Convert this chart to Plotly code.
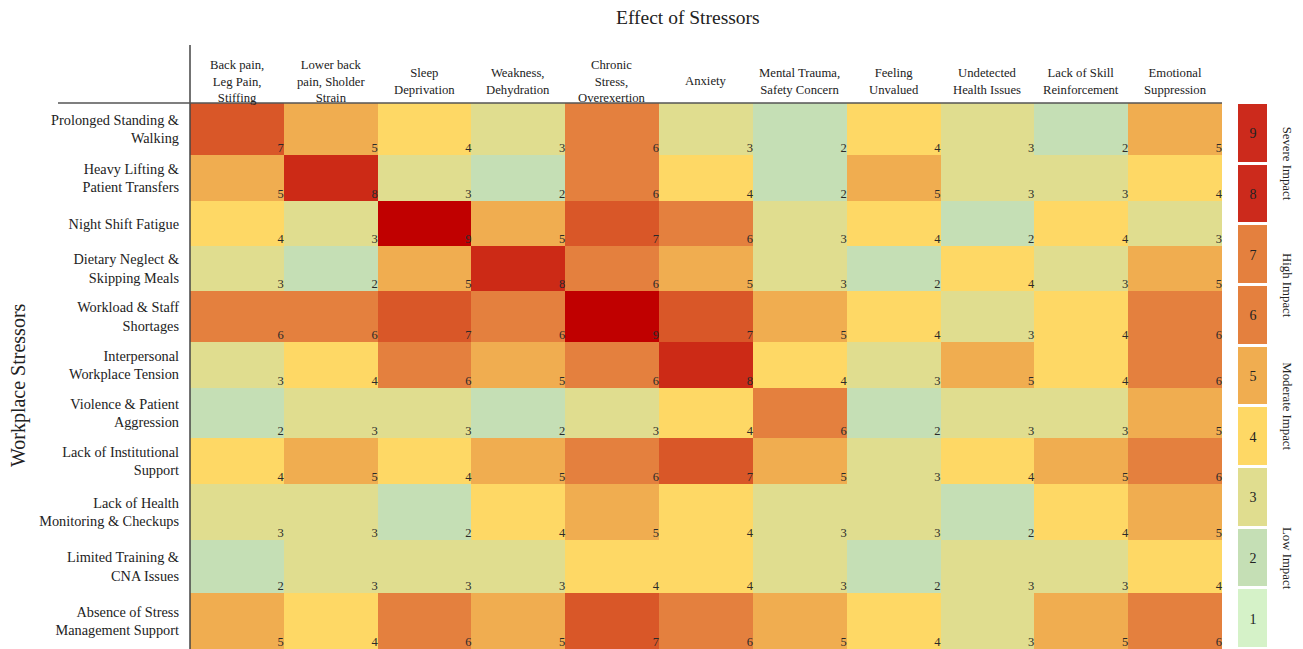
import plotly.graph_objects as go

# ---------------- data ----------------
stressors = [
    "Prolonged Standing &<br>Walking",
    "Heavy Lifting &<br>Patient Transfers",
    "Night Shift Fatigue",
    "Dietary Neglect &<br>Skipping Meals",
    "Workload & Staff<br>Shortages",
    "Interpersonal<br>Workplace Tension",
    "Violence & Patient<br>Aggression",
    "Lack of Institutional<br>Support",
    "Lack of Health<br>Monitoring & Checkups",
    "Limited Training &<br>CNA Issues",
    "Absence of Stress<br>Management Support",
]
effects = [
    "Back pain,<br>Leg Pain,<br>Stiffing",
    "Lower back<br>pain, Sholder<br>Strain",
    "Sleep<br>Deprivation",
    "Weakness,<br>Dehydration",
    "Chronic<br>Stress,<br>Overexertion",
    "Anxiety",
    "Mental Trauma,<br>Safety Concern",
    "Feeling<br>Unvalued",
    "Undetected<br>Health Issues",
    "Lack of Skill<br>Reinforcement",
    "Emotional<br>Suppression",
]
impact = [
    [7, 5, 4, 3, 6, 3, 2, 4, 3, 2, 5],
    [5, 8, 3, 2, 6, 4, 2, 5, 3, 3, 4],
    [4, 3, 9, 5, 7, 6, 3, 4, 2, 4, 3],
    [3, 2, 5, 8, 6, 5, 3, 2, 4, 3, 5],
    [6, 6, 7, 6, 9, 7, 5, 4, 3, 4, 6],
    [3, 4, 6, 5, 6, 8, 4, 3, 5, 4, 6],
    [2, 3, 3, 2, 3, 4, 6, 2, 3, 3, 5],
    [4, 5, 4, 5, 6, 7, 5, 3, 4, 5, 6],
    [3, 3, 2, 4, 5, 4, 3, 3, 2, 4, 5],
    [2, 3, 3, 3, 4, 4, 3, 2, 3, 3, 4],
    [5, 4, 6, 5, 7, 6, 5, 4, 3, 5, 6],
]
levels = [1, 2, 3, 4, 5, 6, 7, 8, 9]
level_groups = [("Severe Impact", [8, 9]), ("High Impact", [6, 7]),
                ("Moderate Impact", [4, 5]), ("Low Impact", [1, 2, 3])]

# ---------------- styles ----------------
OFF = 8                     # page body margin in the browser
W, H = 1303 - OFF, 649 - OFF
FONT = "Times New Roman, Liberation Serif, serif"
cell_colors = ["#d5f2c8", "#c5dfb5", "#e0dd8f", "#fed865", "#f0ad50",
               "#e4803e", "#d95728", "#cc2a16", "#c00000"]
key_colors = ["#d5f2c8", "#c5dfb5", "#e0dd8f", "#fed865", "#f0ad50",
              "#e4803e", "#e4803e", "#cc2a1c", "#cc2a1c"]
ROW_HEIGHTS = [52, 46, 45, 45, 51, 46, 50, 46, 56, 53, 56]  # layout (px)
PLOT_L, PLOT_R, PLOT_T = 190, 1222, 103
KEY_L, KEY_R = 1238, 1267


def discrete_scale(colors):
    n = len(colors)
    sc = []
    for i, c in enumerate(colors):
        sc.append([i / n, c])
        sc.append([(i + 1) / n, c])
    return sc


def px_x(p):
    return (p - OFF) / W


def px_y(p):
    return 1 - (p - OFF) / H


edges = [0]
for h in ROW_HEIGHTS:
    edges.append(edges[-1] + h)
centers = [(edges[i] + edges[i + 1]) / 2 for i in range(len(stressors))]
ncol = len(effects)

fig = go.Figure()

fig.add_trace(go.Heatmap(
    z=impact, x=list(range(ncol)), y=edges,
    colorscale=discrete_scale(cell_colors), zmin=0.5, zmax=9.5,
    showscale=False, hoverinfo="skip", xaxis="x", yaxis="y",
))

# value labels at the bottom-right corner of each cell
tx, ty, tt = [], [], []
for r, row in enumerate(impact):
    for c, v in enumerate(row):
        tx.append(c + 0.5)
        ty.append(edges[r + 1])
        tt.append(str(v))
fig.add_trace(go.Scatter(
    x=tx, y=ty, text=tt, mode="text", textposition="top left",
    textfont=dict(family=FONT, size=12.5, color="#2a2a2a"),
    hoverinfo="skip", showlegend=False, xaxis="x", yaxis="y", cliponaxis=False,
))

# discrete key
fig.add_trace(go.Heatmap(
    z=[[v] for v in levels], x=[0], y=levels,
    colorscale=discrete_scale(key_colors), zmin=0.5, zmax=9.5,
    showscale=False, ygap=3, hoverinfo="skip",
    texttemplate="%{z}", textfont=dict(family=FONT, size=14, color="#222"),
    xaxis="x2", yaxis="y2",
))

fig.update_layout(
    width=W, height=H,
    margin=dict(l=0, r=0, t=0, b=0),
    paper_bgcolor="white", plot_bgcolor="white",
    font=dict(family=FONT, color="#222"),
    showlegend=False,
    xaxis=dict(domain=[px_x(PLOT_L), px_x(PLOT_R)], range=[-0.5, ncol - 0.5],
               showticklabels=False, showgrid=False, zeroline=False,
               showline=False, automargin=False, fixedrange=True),
    yaxis=dict(domain=[0, px_y(PLOT_T)], range=[edges[-1], 0],
               tickmode="array", tickvals=centers, ticktext=stressors,
               tickfont=dict(family=FONT, size=14.3, color="#222"),
               ticks="", ticklabelstandoff=10,
               showgrid=False, zeroline=False, showline=False,
               automargin=False, fixedrange=True),
    xaxis2=dict(domain=[px_x(KEY_L), px_x(KEY_R)], range=[-0.5, 0.5],
                visible=False, anchor="y2", fixedrange=True),
    yaxis2=dict(domain=[0, px_y(PLOT_T)], range=[0.5, 9.5],
                visible=False, anchor="x2", fixedrange=True),
)

# column headers
for i, lab in enumerate(effects):
    fig.add_annotation(x=i, y=px_y(81), xref="x", yref="paper",
                       text=lab, showarrow=False, xanchor="center",
                       yanchor="middle",
                       font=dict(family=FONT, size=12.7, color="#222"))

# key group labels
for name, vals in level_groups:
    fig.add_annotation(x=px_x(1287), y=sum(vals) / len(vals),
                       xref="paper", yref="y2", text=name, textangle=90,
                       showarrow=False, xanchor="center", yanchor="middle",
                       font=dict(family=FONT, size=12.8, color="#222"))

# titles
fig.add_annotation(x=px_x(688), y=px_y(18), xref="paper", yref="paper",
                   text="Effect of Stressors", showarrow=False,
                   xanchor="center", yanchor="middle",
                   font=dict(family=FONT, size=19.5, color="#222"))
fig.add_annotation(x=px_x(18), y=px_y(385), xref="paper", yref="paper",
                   text="Workplace Stressors", showarrow=False, textangle=-90,
                   xanchor="center", yanchor="middle",
                   font=dict(family=FONT, size=20, color="#222"))

# table rules
fig.add_shape(type="line", xref="paper", yref="paper",
              x0=px_x(PLOT_L), x1=px_x(PLOT_L), y0=0, y1=px_y(45),
              line=dict(color="#444", width=1.5))
fig.add_shape(type="line", xref="paper", yref="paper",
              x0=px_x(58), x1=px_x(PLOT_R), y0=px_y(PLOT_T), y1=px_y(PLOT_T),
              line=dict(color="#555", width=1.5))

fig.write_html("out.html")
